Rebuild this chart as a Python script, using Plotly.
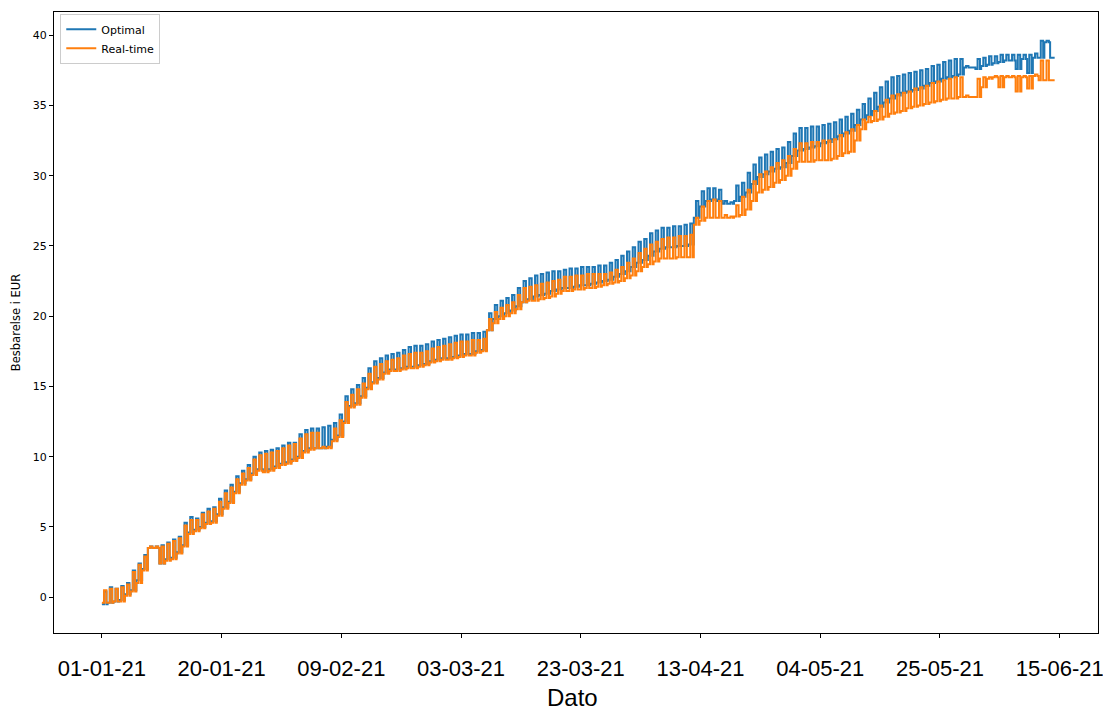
import plotly.graph_objects as go

# Daily readings (value at the top of the daily pulse / value at its base), EUR
optimal_hi = [
    0.4, 0.7, 0.6, 0.8, 1.0, 1.9, 2.4, 3.0, 3.6, 3.6,
    3.7, 3.9, 4.1, 4.3, 5.3, 5.7, 5.6, 6.0, 6.3, 6.4,
    7.0, 7.6, 8.0, 8.6, 9.0, 9.4, 10.0, 10.3, 10.4, 10.5,
    10.6, 10.8, 11.0, 11.0, 11.6, 11.9, 12.0, 12.0, 12.1, 12.2,
    12.4, 13.0, 14.3, 14.8, 15.1, 15.6, 16.3, 16.8, 17.0, 17.2,
    17.3, 17.4, 17.6, 17.8, 17.9, 17.9, 18.0, 18.2, 18.3, 18.4,
    18.5, 18.6, 18.7, 18.7, 18.8, 18.8, 18.9, 20.2, 20.8, 21.1,
    21.3, 21.5, 22.0, 22.5, 22.7, 22.9, 23.0, 23.1, 23.2, 23.2,
    23.3, 23.4, 23.4, 23.5, 23.5, 23.5, 23.6, 23.6, 23.8, 24.0,
    24.3, 24.6, 24.9, 25.3, 25.5, 25.9, 26.1, 26.3, 26.3, 26.4,
    26.4, 26.5, 26.6, 28.2, 28.9, 29.1, 29.1, 29.0, 28.2, 28.1,
    29.3, 29.5, 30.2, 30.8, 31.3, 31.5, 31.7, 31.9, 32.0, 32.4,
    33.0, 33.4, 33.4, 33.5, 33.5, 33.6, 33.7, 33.8, 34.0, 34.2,
    34.4, 34.7, 35.1, 35.5, 35.9, 36.3, 36.7, 37.0, 37.1, 37.2,
    37.3, 37.4, 37.5, 37.6, 37.8, 37.9, 38.1, 38.2, 38.3, 38.3,
    37.8, 37.7, 38.3, 38.4, 38.5, 38.5, 38.6, 38.6, 38.6, 38.6,
    38.6, 38.6, 38.7, 39.6, 39.6, 38.4,
]
optimal_lo = [
    -0.5, -0.4, -0.3, -0.2, 0.2, 0.5, 1.2, 2.0, 3.5, 3.5,
    2.4, 2.7, 2.8, 3.2, 3.7, 4.6, 4.8, 5.0, 5.3, 5.4,
    5.9, 6.4, 6.8, 7.5, 8.1, 8.4, 8.8, 9.1, 9.0, 9.1,
    9.3, 9.5, 9.6, 9.8, 10.0, 10.4, 10.6, 10.6, 10.6, 10.7,
    11.2, 11.5, 12.5, 13.6, 13.8, 14.3, 14.9, 15.3, 15.6, 16.0,
    16.2, 16.2, 16.3, 16.4, 16.4, 16.5, 16.6, 16.8, 16.9, 17.0,
    17.0, 17.1, 17.2, 17.3, 17.3, 17.5, 17.6, 19.0, 19.8, 20.0,
    20.2, 20.4, 20.7, 21.0, 21.2, 21.4, 21.5, 21.6, 21.8, 21.9,
    22.0, 22.0, 22.1, 22.2, 22.2, 22.3, 22.4, 22.5, 22.6, 22.8,
    23.0, 23.2, 23.5, 23.8, 24.0, 24.3, 24.6, 24.8, 24.9, 24.9,
    25.0, 25.0, 25.1, 27.0, 27.8, 28.2, 28.3, 28.2, 28.0, 28.0,
    28.2, 28.5, 28.8, 29.4, 29.9, 30.1, 30.3, 30.5, 30.6, 30.9,
    31.4, 31.8, 31.9, 32.0, 32.1, 32.3, 32.4, 32.6, 32.8, 33.0,
    33.2, 33.6, 34.0, 34.3, 34.6, 34.9, 35.2, 35.5, 35.7, 35.9,
    36.0, 36.1, 36.2, 36.4, 36.6, 36.7, 36.9, 37.0, 37.1, 37.2,
    37.7, 37.7, 37.6, 37.8, 37.9, 38.0, 38.1, 38.2, 38.2, 37.6,
    38.3, 37.3, 38.4, 38.4, 39.5, 38.4,
]
realtime_hi = [
    0.5, 0.6, 0.6, 0.7, 0.9, 1.8, 2.3, 2.9, 3.6, 3.6,
    3.6, 3.8, 4.0, 4.2, 5.1, 5.5, 5.5, 5.9, 6.1, 6.3,
    6.8, 7.4, 7.8, 8.4, 8.8, 9.2, 9.8, 10.1, 10.2, 10.3,
    10.4, 10.6, 10.8, 10.9, 11.3, 11.6, 11.7, 11.7, 10.7, 10.7,
    12.0, 12.6, 13.9, 14.4, 14.8, 15.2, 15.9, 16.4, 16.6, 16.8,
    16.9, 17.0, 17.2, 17.3, 17.4, 17.4, 17.5, 17.7, 17.8, 17.9,
    18.0, 18.1, 18.2, 18.2, 18.3, 18.3, 18.4, 19.8, 20.3, 20.6,
    20.8, 21.0, 21.5, 22.0, 22.1, 22.2, 22.3, 22.4, 22.5, 22.6,
    22.8, 22.8, 22.9, 22.9, 23.0, 23.0, 23.0, 23.0, 23.1, 23.3,
    23.5, 23.8, 24.1, 24.5, 24.8, 25.1, 25.3, 25.5, 25.6, 25.6,
    25.7, 25.7, 25.8, 27.0, 27.8, 28.2, 28.3, 28.2, 27.2, 27.1,
    27.9, 28.5, 29.0, 29.6, 30.1, 30.3, 30.6, 30.9, 31.1, 31.4,
    31.9, 32.3, 32.3, 32.4, 32.4, 32.5, 32.5, 32.6, 32.9, 33.1,
    33.3, 33.6, 34.0, 34.2, 34.6, 35.0, 35.4, 35.7, 35.8, 35.9,
    36.0, 36.2, 36.3, 36.4, 36.6, 36.7, 36.8, 36.9, 37.0, 37.0,
    35.7, 35.6, 36.9, 37.0, 37.0, 37.1, 37.1, 37.1, 37.1, 37.1,
    37.1, 37.1, 37.2, 38.2, 38.2, 36.8,
]
realtime_lo = [
    -0.4, -0.4, -0.3, -0.3, 0.1, 0.4, 1.0, 1.9, 3.5, 3.5,
    2.4, 2.6, 2.7, 3.1, 3.6, 4.5, 4.7, 4.9, 5.2, 5.3,
    5.8, 6.3, 6.7, 7.4, 8.0, 8.3, 8.7, 9.0, 8.9, 9.0,
    9.2, 9.4, 9.5, 9.7, 9.9, 10.3, 10.5, 10.6, 10.6, 10.6,
    11.1, 11.4, 12.4, 13.5, 13.7, 14.2, 14.8, 15.2, 15.5, 15.9,
    16.1, 16.1, 16.2, 16.3, 16.3, 16.4, 16.5, 16.7, 16.8, 16.9,
    16.9, 17.0, 17.1, 17.2, 17.2, 17.4, 17.5, 19.0, 19.5, 19.8,
    20.0, 20.2, 20.5, 21.0, 21.1, 21.1, 21.2, 21.3, 21.4, 21.6,
    21.8, 21.8, 21.9, 21.9, 22.0, 22.0, 22.1, 22.2, 22.3, 22.4,
    22.5, 22.7, 22.9, 23.2, 23.5, 23.7, 23.9, 24.1, 24.1, 24.1,
    24.2, 24.2, 24.2, 26.5, 26.8, 27.0, 27.0, 27.0, 27.0, 27.0,
    27.1, 27.2, 27.6, 28.2, 28.8, 29.0, 29.2, 29.5, 29.7, 30.0,
    30.5, 31.0, 31.0, 31.0, 31.1, 31.1, 31.1, 31.2, 31.4, 31.6,
    31.7, 32.5, 33.3, 33.8, 33.9, 34.0, 34.2, 34.4, 34.5, 34.6,
    34.8, 34.9, 35.0, 35.1, 35.2, 35.3, 35.4, 35.5, 35.5, 35.6,
    35.6, 35.6, 35.6, 36.3, 36.9, 37.0, 36.3, 37.0, 37.0, 36.0,
    37.0, 36.2, 37.1, 36.8, 36.8, 36.8,
]

tick_labels = ["01-01-21", "20-01-21", "09-02-21", "03-03-21", "23-03-21",
               "13-04-21", "04-05-21", "25-05-21", "15-06-21"]
tick_step_hours = 500  # one label every 500 hourly samples


def pulses(hi, lo):
    xs, ys = [], []
    n = min(len(hi), len(lo))
    for d in range(n):
        xs += [d * 24, d * 24 + 9, d * 24 + 19]
        ys += [lo[d], hi[d], lo[d]]
    return xs, ys


xo, yo = pulses(optimal_hi, optimal_lo)
xr, yr = pulses(realtime_hi, realtime_lo)

fig = go.Figure()
fig.add_trace(go.Scatter(x=xo, y=yo, mode="lines", name="Optimal",
                         line=dict(color="#1f77b4", width=2, shape="hv")))
fig.add_trace(go.Scatter(x=xr, y=yr, mode="lines", name="Real-time",
                         line=dict(color="#ff7f0e", width=2, shape="hv")))

axis_common = dict(showline=True, linecolor="black", linewidth=1, mirror=True,
                   ticks="outside", ticklen=4, tickcolor="black", showgrid=False,
                   zeroline=False)

label_font = "Liberation Sans, Arial, sans-serif"

fig.update_layout(
    width=1103, height=711,
    margin=dict(l=54, r=5, t=12, b=78),
    paper_bgcolor="white", plot_bgcolor="white",
    showlegend=True,
    legend=dict(x=0.006, y=0.997, xanchor="left", yanchor="top",
                bgcolor="rgba(255,255,255,0.8)", bordercolor="#cccccc", borderwidth=1,
                font=dict(family="DejaVu Sans", size=11, color="black"),
                tracegroupgap=0),
    xaxis=dict(**axis_common,
               range=[-200, 4160],
               tickvals=[i * tick_step_hours for i in range(len(tick_labels))],
               ticktext=tick_labels,
               tickfont=dict(family=label_font, size=22, color="black"),
               ticklabelstandoff=12,
               ticklabeloverflow="allow",
               automargin=False),
    yaxis=dict(**axis_common,
               range=[-2.55, 41.65],
               tickvals=[0, 5, 10, 15, 20, 25, 30, 35, 40],
               tickfont=dict(family="DejaVu Sans", size=11, color="black"),
               title=dict(text="Besbarelse i EUR", font=dict(family="DejaVu Sans", size=11.5, color="black"),
                          standoff=9),
               automargin=False),
    annotations=[dict(text="Dato", xref="paper", yref="paper", x=0.497, y=-0.1031,
                      xanchor="center", yanchor="middle", showarrow=False,
                      font=dict(family=label_font, size=24, color="black"))],
)

fig.write_html("out.html",
               config={"displayModeBar": False},
               post_script="document.body.style.margin='0';document.body.style.overflow='hidden';")
